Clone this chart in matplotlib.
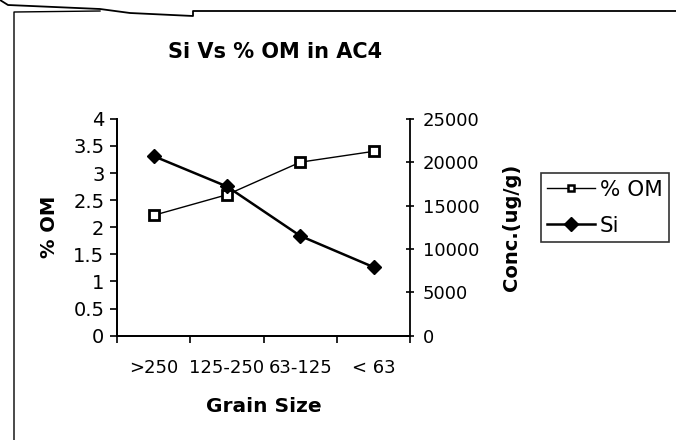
import matplotlib
matplotlib.use("Agg")
import matplotlib.pyplot as plt
from matplotlib.lines import Line2D

plt.rcParams['font.family'] = ['DejaVu Sans']

# data
grain_size = ['>250', '125-250', '63-125', '< 63']
om_pct = [2.22, 2.6, 3.2, 3.4]
si_conc = [20700, 17200, 11500, 7900]

W, H = 676, 440
fig = plt.figure(figsize=(W / 100, H / 100), dpi=100)
ax = fig.add_axes([0.173, 0.237, 0.434, 0.493])
ax2 = ax.twinx()

x = list(range(len(grain_size)))
ax.plot(x, om_pct, color='black', lw=1.0, marker='s', ms=7,
        mfc='white', mec='black', mew=2.0, label='% OM', zorder=3)
ax2.plot(x, si_conc, color='black', lw=1.8, marker='D', ms=7,
         mfc='black', mec='black', label='Si', zorder=3)

ax.set_xlim(-0.5, len(grain_size) - 0.5)
ax.set_ylim(0, 4)
ax.set_yticks([0, 0.5, 1, 1.5, 2, 2.5, 3, 3.5, 4])
ax.set_yticklabels(['0', '0.5', '1', '1.5', '2', '2.5', '3', '3.5', '4'])
ax2.set_ylim(0, 25000)
ax2.set_yticks([0, 5000, 10000, 15000, 20000, 25000])

# category labels centred, tick marks between categories
ax.set_xticks(x)
ax.set_xticklabels(grain_size)
ax.tick_params(axis='x', length=0, pad=17, labelsize=13)
ax.set_xticks([-0.5, 0.5, 1.5, 2.5, 3.5], minor=True)
ax.tick_params(axis='x', which='minor', length=5, direction='out', width=1.2)

ax.tick_params(axis='y', length=5, direction='out', labelsize=14, width=1.2, pad=4)
ax2.tick_params(axis='y', length=6, direction='inout', labelsize=13, width=1.2, pad=6)

for a in (ax, ax2):
    a.spines['top'].set_visible(False)
    for s in a.spines.values():
        s.set_linewidth(1.3)
ax.spines['right'].set_visible(False)

ax.set_xlabel('Grain Size', fontsize=14.5, fontweight='bold', labelpad=14)
ax.set_ylabel('% OM', fontsize=14, fontweight='bold', labelpad=10)
ax2.set_ylabel('Conc.(ug/g)', fontsize=14, fontweight='bold', labelpad=16)

fig.text(0.407, 0.882, 'Si Vs % OM in AC4', fontsize=15, fontweight='bold',
         ha='center', va='center')

handles = [
    Line2D([], [], color='black', lw=1.0, marker='s', ms=5, mfc='white',
           mec='black', mew=1.8),
    Line2D([], [], color='black', lw=1.8, marker='D', ms=7, mfc='black'),
]
leg = fig.legend(handles, ['% OM', 'Si'], loc='center left',
                 bbox_to_anchor=(0.800, 0.528), fontsize=15.5, frameon=True,
                 fancybox=False, edgecolor='black', handlelength=2.2,
                 handletextpad=0.25, borderpad=0.3, labelspacing=0.75,
                 borderaxespad=0)
leg.get_frame().set_linewidth(1.2)

# border of the scanned chart area (pixel points)
top_px = [(0, 0), (8, 5), (100, 9), (130, 13), (193, 16), (193, 11), (676, 11)]
left_px = [(14, 440), (14, 12), (100, 11)]
for pts, lw in ((top_px, 1.3), (left_px, 1.0)):
    xs = [p[0] / W for p in pts]
    ys = [1 - p[1] / H for p in pts]
    fig.add_artist(Line2D(xs, ys, color='black', lw=lw, transform=fig.transFigure))

fig.savefig('out.png', dpi=100)
